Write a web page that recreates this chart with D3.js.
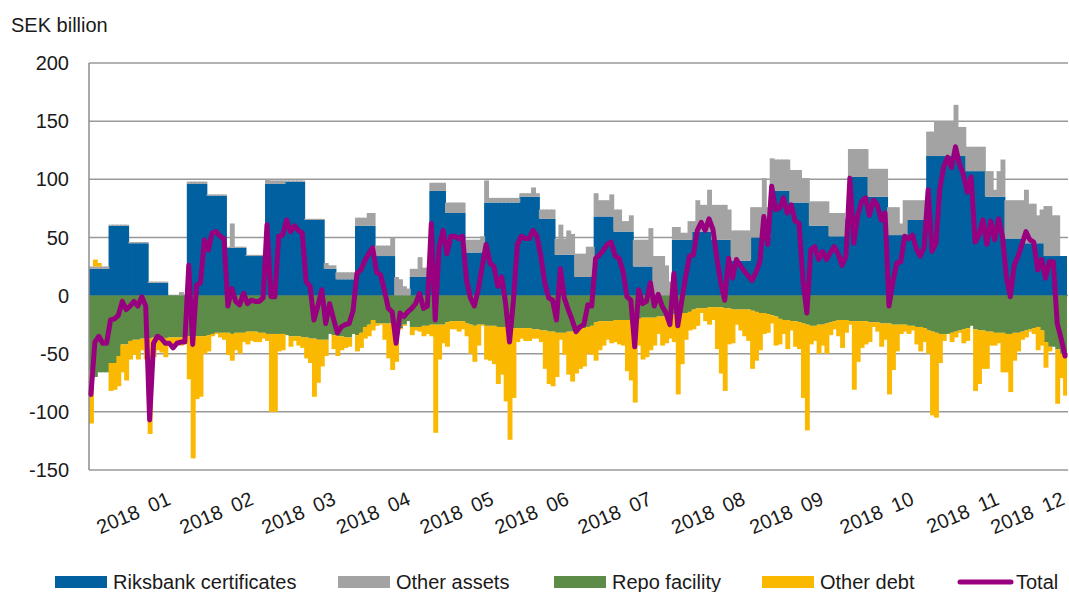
<!doctype html>
<html lang="en">
<head>
<meta charset="utf-8">
<title>Banks' net position against the Riksbank</title>
<script src="https://d3js.org/d3.v7.min.js"></script>
<style>
  body { margin: 0; background: #fff; }
  text { font-family: "Liberation Sans", Arial, sans-serif; fill: #1a1a1a; }
</style>
</head>
<body>
<div id="holder"></div>
<script>
// one value per banking day, SEK billion
const riksbankCert = [
  23,23,23,23,23,60,60,60,60,60, 45,45,45,45,45,11,11,11,11,11,
  0,0,0,0,0,96,96,96,96,96, 86,86,86,86,86,41,41,41,41,41,
  34,34,34,34,34,96,96,96,96,96, 98,98,98,98,98,65,65,65,65,65,
  23,23,23,14,14,14,14,14,60,60, 60,60,60,34,34,34,34,34,0,0,
  0,0,16,16,16,16,16,90,90,90, 90,71,71,71,71,71,37,37,37,37,
  37,80,80,80,80,80,80,80,80,80, 85,85,85,85,85,66,66,66,66,35,
  35,35,35,35,16,16,16,16,16,68, 68,68,68,68,55,55,55,55,55,25,
  25,25,25,25,0,0,0,0,0,48, 48,48,48,48,55,55,55,55,55,48,
  48,48,48,48,30,30,30,30,30,50, 50,50,50,50,90,90,90,90,90,80,
  80,80,80,80,60,60,60,60,60,51, 51,51,51,51,102,102,102,102,102,85,
  85,85,85,85,52,52,52,52,52,65, 65,65,65,65,120,120,120,120,120,120,
  120,120,120,120,107,107,107,107,107,85, 85,85,85,85,49,49,49,49,49,45,
  45,45,45,45,34,34,34,34,34,34
];
const otherAssets = [
  2,2,2,2,2,1,1,1,1,1, 1,1,1,1,1,1,1,1,1,1,
  0,0,0,3,1,2,2,2,2,2, 1,1,1,1,1,1,21,1,1,1,
  1,1,1,1,1,4,3,3,3,3, 1,1,1,1,1,1,1,1,1,1,
  5,3,3,6,6,6,6,6,7,7, 7,11,11,9,9,9,9,16,16,14,
  8,6,7,7,17,8,8,7,7,7, 7,9,9,9,9,9,11,11,11,11,
  14,19,4,4,4,4,4,4,4,4, 3,3,3,8,3,8,8,8,8,14,
  26,14,21,18,20,20,20,26,26,20, 14,14,14,19,19,19,9,9,14,23,
  23,23,23,33,34,34,34,26,12,11, 11,6,6,16,9,27,23,23,36,30,
  30,30,30,26,26,26,26,26,26,26, 26,26,51,26,28,27,27,27,27,28,
  28,28,21,21,21,21,21,21,21,20, 20,20,20,15,24,24,24,24,24,24,
  24,24,24,24,24,24,24,10,30,17, 17,17,17,17,21,21,30,30,30,30,
  30,44,25,25,21,21,21,21,21,22, 22,6,22,32,33,33,33,33,33,46,
  34,34,24,29,43,43,35,35,0,0
];
const repoFacility = [
  -65,-70,-66,-66,-66,-58,-58,-52,-42,-42, -39,-38,-38,-37,-37,-37,-36,-36,-36,-37,
  -36,-36,-36,-36,-35,-35,-35,-35,-35,-35, -34,-33,-32,-32,-32,-32,-33,-32,-32,-32,
  -31,-31,-31,-32,-32,-33,-33,-33,-33,-33, -34,-35,-35,-35,-36,-36,-37,-37,-38,-38,
  -38,-33,-34,-35,-35,-36,-36,-33,-34,-32, -27,-25,-21,-24,-24,-24,-24,-24,-26,-28,
  -25,-22,-27,-27,-27,-26,-26,-25,-25,-25, -25,-23,-22,-22,-22,-22,-24,-25,-26,-25,
  -25,-26,-26,-26,-27,-27,-27,-28,-28,-28, -28,-28,-28,-29,-29,-30,-30,-31,-31,-32,
  -32,-32,-31,-31,-30,-29,-28,-27,-26,-23, -22,-22,-22,-22,-21,-21,-21,-21,-21,-20,
  -20,-19,-19,-19,-19,-18,-18,-18,-17,-16, -15,-15,-15,-14,-12,-11,-11,-11,-10,-10,
  -10,-10,-11,-11,-12,-12,-12,-12,-12,-13, -14,-15,-15,-16,-17,-18,-20,-21,-21,-22,
  -22,-23,-24,-25,-26,-26,-25,-25,-24,-23, -22,-21,-21,-21,-22,-22,-22,-22,-22,-23,
  -23,-23,-24,-24,-24,-25,-25,-25,-25,-26, -26,-27,-27,-28,-30,-31,-32,-33,-33,-33,
  -32,-31,-30,-29,-28,-26,-29,-30,-30,-31, -31,-32,-32,-32,-33,-33,-32,-32,-31,-30,
  -29,-28,-27,-30,-40,-44,-44,-46,-50,-52
];
const otherDebt = [
  -45,6,3,0,0,-24,-23,-26,-24,-31, -16,-13,-17,-10,-18,-82,-17,-11,-13,-16,
  -5,-9,-5,-7,-6,-37,-105,-54,-52,-15, -14,-2,-1,-4,-6,-19,-23,-15,-18,-8,
  -11,-8,-9,-8,-5,-6,-67,-67,-15,-14, 0,-9,-4,-8,-9,-18,-21,-50,-37,-23,
  -14,0,-12,-17,-12,-9,-8,0,-14,-13, -10,-10,-9,-2,-1,-14,-30,-40,-31,-1,
  -1,0,-7,-3,-4,-9,-7,-10,-93,-30, -16,-21,-7,-7,-9,-7,-11,-25,-31,-18,
  -1,-29,-30,-33,-49,-41,-64,-96,-60,-12, -9,-11,-11,-8,-8,-10,-33,-45,-47,-38,
  -6,-19,-37,-43,-37,-34,-33,-23,-25,-33, -25,-21,-16,-19,-19,-21,-22,-44,-52,-72,
  -23,-36,-34,-28,-24,-15,-25,-23,-20,-24, -70,-44,-23,-16,-17,-15,-4,-11,-15,-11,
  -36,-57,-71,-31,-29,-13,-18,-23,-27,-50, -42,-32,-18,-16,-7,-25,-22,-12,-25,-8,
  -22,-23,-64,-91,-16,-13,-25,-18,-26,-11, -7,-14,-24,-11,-3,-59,-35,-23,-20,-17,
  -4,-8,-20,-14,-61,-39,-23,-8,-6,-7, -4,-15,-21,-12,-20,-72,-73,-25,-6,0,
  -8,-5,-2,-12,-11,0,-53,-46,-33,-32, -12,-11,-9,-34,-33,-50,-24,-16,-7,-6,
  -2,-5,-20,-13,-22,-4,0,-47,-21,-34
];
const total = [
  -85,-40,-35,-41,-41,-21,-20,-17,-5,-12, -9,-5,-9,-1,-9,-107,-41,-35,-37,-41,
  -41,-45,-41,-40,-40,26,-42,9,11,48, 39,54,55,51,49,-9,6,-5,-8,2,
  -7,-4,-5,-5,-2,61,-1,-1,51,52, 65,55,60,56,54,12,8,-21,-9,5,
  -24,-7,-20,-32,-27,-25,-24,-13,19,22, 30,36,41,20,18,5,-11,-14,-41,-15,
  -18,-14,-11,-7,2,-11,-9,62,-21,42, 56,36,51,51,49,51,13,-2,-9,5,
  25,44,28,25,8,16,-7,-40,-4,44, 51,49,49,56,51,34,11,-2,-4,-21,
  23,-2,-12,-21,-31,-27,-25,-8,-9,32, 35,39,44,46,34,32,21,-1,-4,-44,
  5,-7,-5,11,-9,1,-9,-15,-25,19, -26,-5,16,34,35,56,63,56,66,57,
  32,11,-4,32,15,31,26,21,17,13, 20,29,68,44,94,74,75,84,71,78,
  64,62,13,-15,39,42,31,38,31,37, 42,36,26,34,101,45,69,81,84,69,
  82,78,65,71,-9,12,28,29,51,49, 52,40,34,42,91,38,45,92,111,119,
  110,128,113,104,89,102,46,52,65,44, 64,48,66,51,16,-1,26,34,44,55,
  48,46,22,31,15,29,29,-24,-37,-52
];

// month labels and the banking-day position where each month starts
const monthLabels = ['2018  01','2018  02','2018  03','2018  04','2018  05','2018  06',
                     '2018  07','2018  08','2018  09','2018  10','2018  11','2018  12'];
const monthStart = [21.2, 42.4, 63.4, 82.5, 103.8, 123, 144.2, 168.1, 188.1, 211.2, 233, 250];

const yTicks = [-150, -100, -50, 0, 50, 100, 150, 200];

const seriesNames = ['Riksbank certificates', 'Other assets', 'Repo facility', 'Other debt', 'Total'];
const seriesColors = ['#0060a0', '#a3a3a3', '#5c8c47', '#fab800', '#99007f'];

const width = 1069, height = 592;
const nDays = riksbankCert.length;

const svg = d3.select('#holder')
  .append('svg')
  .attr('width', width)
  .attr('height', height);

const x = d3.scaleLinear().domain([0, nDays]).range([89, 1067]);
const y = d3.scaleLinear().domain([-150, 200]).range([470, 63]);

// gridlines (behind the bars)
svg.append('g')
  .selectAll('line')
  .data(yTicks)
  .join('line')
  .attr('x1', 89)
  .attr('x2', 1068)
  .attr('y1', d => y(d))
  .attr('y2', d => y(d))
  .attr('stroke', '#999')
  .attr('stroke-width', 1.5);

// stacked bars
const rows = d3.range(nDays).map(i => ({
  rc: riksbankCert[i], oa: otherAssets[i], repo: repoFacility[i], od: otherDebt[i]
}));
const keys = ['rc', 'oa', 'repo', 'od'];
const stacked = d3.stack()
  .keys(keys)
  .offset(d3.stackOffsetDiverging)(rows);

svg.append('g')
  .selectAll('g')
  .data(stacked)
  .join('g')
  .attr('fill', (d, k) => seriesColors[k])
  .selectAll('rect')
  .data(d => d)
  .join('rect')
  .attr('x', (d, i) => x(i))
  .attr('width', (d, i) => x(i + 1) - x(i) + (i < nDays - 1 ? 1 : 0))
  .attr('y', d => y(Math.max(d[0], d[1])))
  .attr('height', d => Math.abs(y(d[0]) - y(d[1])));

// left axis line
svg.append('line')
  .attr('x1', 89).attr('x2', 89)
  .attr('y1', y(200)).attr('y2', y(-150))
  .attr('stroke', '#8c8c8c')
  .attr('stroke-width', 1.5);

// total line
const line = d3.line()
  .x((d, i) => x(i + 0.5))
  .y(d => y(d));

svg.append('path')
  .datum(total)
  .attr('d', line)
  .attr('fill', 'none')
  .attr('stroke', seriesColors[4])
  .attr('stroke-width', 5)
  .attr('stroke-linejoin', 'round')
  .attr('stroke-linecap', 'round');

// y tick labels
svg.append('g')
  .selectAll('text')
  .data(yTicks)
  .join('text')
  .attr('x', 69)
  .attr('y', d => y(d))
  .attr('dy', '0.36em')
  .attr('text-anchor', 'end')
  .style('font-size', '20px')
  .text(d => String(d));

svg.append('text')
  .attr('x', 11)
  .attr('y', 32)
  .style('font-size', '20px')
  .text('SEK billion');

// x labels
svg.append('g')
  .selectAll('text')
  .data(monthLabels)
  .join('text')
  .attr('transform', (d, i) => 'translate(' + Math.min(x(monthStart[i]), 1066) + ',504) rotate(-23)')
  .attr('text-anchor', 'end')
  .attr('xml:space', 'preserve')
  .style('white-space', 'pre')
  .style('font-size', '20px')
  .text(d => d);

// legend
const legendX = [55, 338, 554, 762, 958];
const legend = svg.append('g').attr('class', 'legend');
seriesNames.forEach((name, k) => {
  const lx = legendX[k];
  if (k < 4) {
    legend.append('rect')
      .attr('x', lx).attr('y', 576)
      .attr('width', 52).attr('height', 12)
      .attr('fill', seriesColors[k]);
  } else {
    legend.append('line')
      .attr('x1', lx + 2).attr('x2', lx + 53)
      .attr('y1', 582).attr('y2', 582)
      .attr('stroke', seriesColors[k])
      .attr('stroke-width', 5)
      .attr('stroke-linecap', 'round');
  }
  legend.append('text')
    .attr('x', lx + 58)
    .attr('y', 589)
    .style('font-size', '20px')
    .text(name);
});
</script>
</body>
</html>
